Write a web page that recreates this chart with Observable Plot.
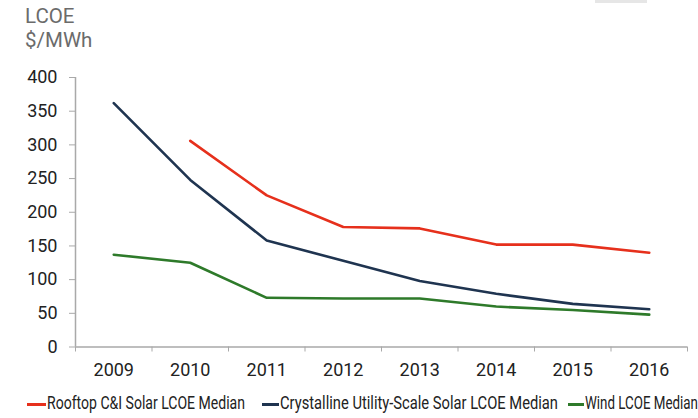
<!DOCTYPE html>
<html>
<head>
<meta charset="utf-8">
<script src="https://cdn.jsdelivr.net/npm/d3@7"></script>
<script src="https://cdn.jsdelivr.net/npm/@observablehq/plot@0.6"></script>
<style>
  html, body { margin: 0; padding: 0; background: #fff; }
  #wrap { position: relative; width: 698px; height: 418px; overflow: hidden; font-family: Roboto, "Noto Sans", sans-serif; }
  #title { position: absolute; left: 25px; top: 4px; color: #6b6b6b; font-size: 20.5px; line-height: 24px; }
  #chart { position: absolute; left: 0; top: 60px; }
  #tab { position: absolute; left: 595px; top: 0; width: 52px; height: 3px; background: #e6e6e6; }
  .item { position: absolute; top: 393px; height: 20px; white-space: nowrap; }
  .sw { position: absolute; top: 10px; height: 2.5px; }
  .lab { position: absolute; top: 0; font-size: 18px; line-height: 20px; color: #222; transform-origin: 0 0; }
</style>
</head>
<body>
<div id="wrap">
  <div id="tab"></div>
  <div id="title">LCOE<br>$/MWh</div>
  <div id="chart"></div>
  <div id="legend"></div>
</div>
<script>
// Median levelized cost of energy by technology, $/MWh
const years = [2009, 2010, 2011, 2012, 2013, 2014, 2015, 2016];
const rooftop = [null, 306, 225, 178, 176, 152, 152, 140];
const crystalline = [362, 248, 158, 128, 98, 79, 64, 56];
const wind = [137, 125, 73, 72, 72, 60, 55, 48];

const seriesNames = [
  "Rooftop C&I Solar LCOE Median",
  "Crystalline Utility-Scale Solar LCOE Median",
  "Wind LCOE Median"
];
const seriesColors = ["#e6301c", "#1f3450", "#2e7a2a"];
const seriesValues = [rooftop, crystalline, wind];

const yTicks = [0, 50, 100, 150, 200, 250, 300, 350, 400];
// category boundaries for the x tick marks
const xBounds = [2008.5, 2009.5, 2010.5, 2011.5, 2012.5, 2013.5, 2014.5, 2015.5, 2016.5];

const rows = seriesNames.flatMap((name, i) =>
  years.map((year, j) => ({ series: name, year, value: seriesValues[i][j] }))
).filter(d => d.value != null);

const tickFont = 18;

const chart = Plot.plot({
  width: 698,
  height: 330,
  marginLeft: 75,
  marginRight: 11,
  marginTop: 17,
  marginBottom: 43.5,
  style: { fontFamily: "Roboto, 'Noto Sans', sans-serif", fontSize: "18px", color: "#222", background: "#fff" },
  x: { domain: [2008.5, 2016.5] },
  y: { domain: [0, 400] },
  color: { domain: seriesNames, range: seriesColors },
  marks: [
    Plot.axisY({ ticks: yTicks, tickSize: 6, tickPadding: 12, stroke: "#a9a9a9", fill: "#222", fontSize: tickFont, label: null, tickFormat: d => String(d) }),
    Plot.axisX({ ticks: years, tickSize: 0, tickPadding: 16, fill: "#222", fontSize: tickFont, label: null, tickFormat: d => String(d) }),
    Plot.axisX({ ticks: xBounds, tickSize: 5, tickPadding: 0, stroke: "#a9a9a9", label: null, tickFormat: () => "" }),
    Plot.ruleX([2008.5], { stroke: "#a9a9a9", strokeWidth: 1.5 }),
    Plot.ruleY([0], { stroke: "#a9a9a9", strokeWidth: 1.5 }),
    Plot.line(rows, { x: "year", y: "value", z: "series", stroke: "series", strokeWidth: 2.6 })
  ]
});
document.getElementById("chart").appendChild(chart);

// legend below the plot
const legendPos = [
  { swatch: 27, text: 47, width: 198 },
  { swatch: 262, text: 280, width: 278 },
  { swatch: 568, text: 585, width: 113 }
];
const legend = document.getElementById("legend");
seriesNames.forEach((name, i) => {
  const p = legendPos[i];
  const item = document.createElement("div");
  item.className = "item";
  item.style.left = "0px";
  const sw = document.createElement("div");
  sw.className = "sw";
  sw.style.left = p.swatch + "px";
  sw.style.width = (p.text - p.swatch - 1) + "px";
  sw.style.background = seriesColors[i];
  const lab = document.createElement("div");
  lab.className = "lab";
  lab.style.left = p.text + "px";
  lab.textContent = name;
  item.appendChild(sw);
  item.appendChild(lab);
  legend.appendChild(item);
  const w = lab.getBoundingClientRect().width;
  lab.style.transform = `scaleX(${p.width / w})`;
});
</script>
</body>
</html>
